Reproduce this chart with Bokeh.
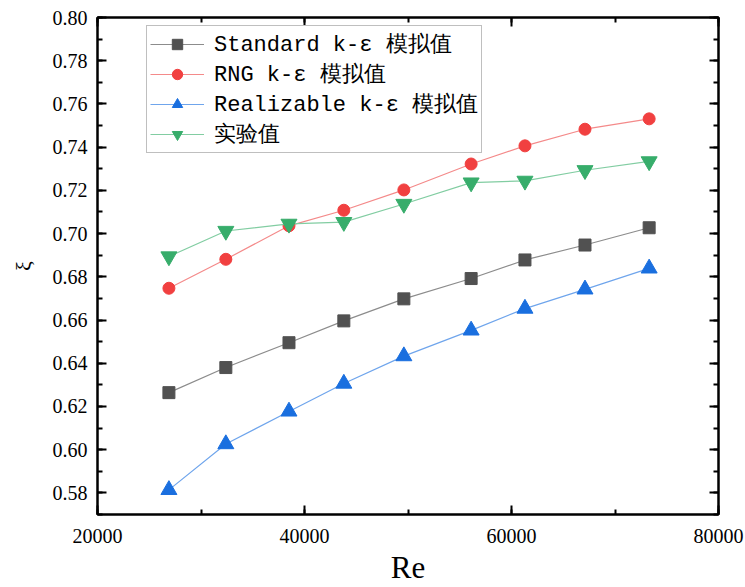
from bokeh.plotting import figure
from bokeh.models import (LinearAxis, SingleIntervalTicker, Legend, LegendItem,
                          PrintfTickFormatter, CustomJSTickFormatter)
from bokeh.embed import file_html
from bokeh.resources import INLINE

# ---- data ----
re_vals = [26900, 32400, 38500, 43800, 49600, 56100, 61300, 67100, 73300]
standard = [0.6264, 0.6380, 0.6495, 0.6596, 0.6698, 0.6792, 0.6878, 0.6947, 0.7027]
rng = [0.6747, 0.6881, 0.7036, 0.7108, 0.7202, 0.7322, 0.7406, 0.7483, 0.7531]
realizable = [0.5814, 0.6026, 0.6177, 0.6306, 0.6433, 0.6552, 0.6653, 0.6742, 0.6839]
experiment = [0.6894, 0.7012, 0.7045, 0.7053, 0.7137, 0.7236, 0.7244, 0.7293, 0.7334]
labels = ["Standard k-ε 模拟值", "RNG k-ε 模拟值", "Realizable k-ε 模拟值", "实验值"]
x_label = "Re"
y_label = "ξ"

SERIF = "Liberation Serif"
LEG_FONT = "Liberation Mono"

p = figure(width=745, height=587, x_range=(20000, 80000), y_range=(0.57, 0.80),
           output_backend="svg", toolbar_location=None,
           min_border_left=97, min_border_right=27, min_border_top=17, min_border_bottom=71)
p.xgrid.visible = False
p.ygrid.visible = False
p.outline_line_color = "black"
p.outline_line_width = 2
p.background_fill_color = "white"
p.border_fill_color = "white"

xt = SingleIntervalTicker(interval=20000, num_minor_ticks=2)
yt = SingleIntervalTicker(interval=0.02, num_minor_ticks=2)

def style_axis(ax):
    ax.axis_line_color = "black"
    ax.axis_line_width = 2
    ax.major_tick_line_color = "black"
    ax.major_tick_line_width = 2
    ax.minor_tick_line_color = "black"
    ax.minor_tick_line_width = 2
    ax.major_tick_in = 9
    ax.major_tick_out = 0
    ax.minor_tick_in = 5
    ax.minor_tick_out = 0
    ax.major_label_text_font = SERIF
    ax.major_label_text_font_size = "20px"
    ax.major_label_text_color = "black"
    ax.axis_label_text_font = SERIF
    ax.axis_label_text_font_style = "normal"
    ax.axis_label_text_color = "black"

xa = p.xaxis[0]
xa.ticker = xt
style_axis(xa)
xa.major_label_standoff = 14
xa.axis_label = x_label
xa.axis_label_text_font_size = "31px"
xa.axis_label_standoff = 4

ya = p.yaxis[0]
ya.ticker = yt
style_axis(ya)
ya.formatter = PrintfTickFormatter(format="%.2f")
ya.major_label_standoff = 10
ya.axis_label = y_label
ya.axis_label_text_font_size = "22px"
ya.axis_label_standoff = 14

blank = CustomJSTickFormatter(code="return ''")
ra = LinearAxis(ticker=SingleIntervalTicker(interval=0.02, num_minor_ticks=2), formatter=blank)
style_axis(ra)
ra.major_label_standoff = 0
p.add_layout(ra, "right")
ta = LinearAxis(ticker=SingleIntervalTicker(interval=20000, num_minor_ticks=2), formatter=blank)
style_axis(ta)
ta.major_label_standoff = 0
p.add_layout(ta, "above")

series = [
    (standard, "#515151", "#8c8c8c", "square", 12),
    (rng, "#F14040", "#f48a8a", "circle", 12),
    (realizable, "#1A6FDF", "#6fa5ec", "triangle", 16),
    (experiment, "#37AD6B", "#82cda2", "inverted_triangle", 16),
]

items = []
for (vals, mcol, lcol, marker, size), lab in zip(series, labels):
    ln = p.line(re_vals, vals, line_color=lcol, line_width=1.2)
    sc = p.scatter(re_vals, vals, marker=marker, size=size, fill_color=mcol,
                   line_color=mcol, line_width=1)
    items.append(LegendItem(label=lab, renderers=[ln, sc]))

leg = Legend(items=items, location=(49, 361))
leg.label_text_font = LEG_FONT
leg.label_text_font_size = "22px"
leg.label_text_color = "black"
leg.glyph_width = 54
leg.glyph_height = 26
leg.label_height = 26
leg.label_standoff = 10
leg.spacing = 0
leg.padding = 3
leg.margin = 0
leg.border_line_color = "#7f7f7f"
leg.border_line_width = 1
leg.background_fill_color = "white"
leg.background_fill_alpha = 1
p.add_layout(leg, "center")

open("out.html", "w").write(file_html(p, INLINE))
